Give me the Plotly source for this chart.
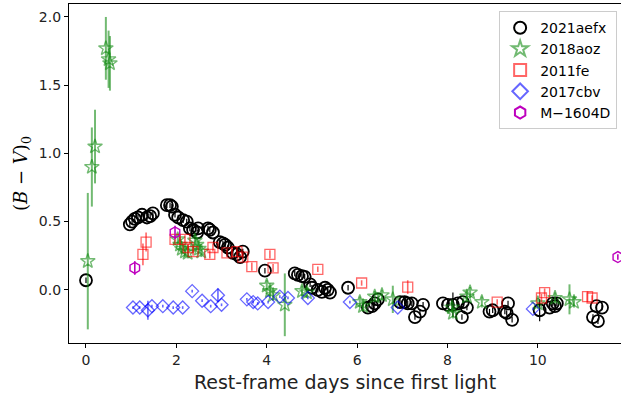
import plotly.graph_objects as go

# ---- SN 2021aefx ----
aefx_x = [0.00, 0.97, 1.02, 1.08, 1.15, 1.24, 1.35, 1.42, 1.48, 1.79, 1.86, 1.90,
          1.97, 2.04, 2.15, 2.23, 2.30, 2.37, 2.46, 2.48, 2.70, 2.74, 2.81,
          2.96, 3.03, 3.08, 3.14, 3.25, 3.34, 3.41, 3.47, 3.96,
          4.62, 4.69, 4.78, 4.84, 4.96, 5.00, 5.13, 5.22, 5.29, 5.35, 5.40, 5.80,
          6.24, 6.33, 6.39, 6.46, 6.95, 7.05, 7.12, 7.21, 7.28, 7.39, 7.46,
          7.90, 8.01, 8.12, 8.23, 8.32, 8.34, 8.43, 8.93, 9.00, 9.27, 9.34, 9.31, 9.43,
          10.04, 10.26, 10.33, 10.42, 10.38, 11.30, 11.42, 11.22, 11.33]
aefx_y = [0.07, 0.48, 0.50, 0.52, 0.53, 0.55, 0.53, 0.54, 0.56, 0.62, 0.62, 0.61,
          0.55, 0.53, 0.51, 0.50, 0.45, 0.44, 0.42, 0.45, 0.45, 0.44, 0.42,
          0.35, 0.34, 0.33, 0.31, 0.27, 0.26, 0.24, 0.28, 0.14,
          0.12, 0.11, 0.10, 0.095, 0.04, 0.015, 0.00, -0.015, 0.015, 0.00, -0.02, 0.015,
          -0.13, -0.12, -0.10, -0.07, -0.09, -0.09, -0.10, -0.10, -0.20, -0.16, -0.11,
          -0.10, -0.11, -0.11, -0.10, -0.20, -0.09, -0.13, -0.16, -0.15, -0.16, -0.10, -0.17, -0.22,
          -0.15, -0.13, -0.10, -0.10, -0.12, -0.12, -0.13, -0.20, -0.23]
aefx_err = [0.02] * len(aefx_x)
aefx_err[aefx_x.index(8.12)] = 0.09
aefx_err[aefx_x.index(10.04)] = 0.08

# ---- SN 2018aoz ----
aoz_x = [0.04, 0.13, 0.20, 0.44, 0.50, 0.53,
         2.03, 2.08, 2.12, 2.19, 2.25, 2.41, 2.45, 2.50, 2.55,
         4.00, 4.07, 4.14, 4.40, 4.78, 4.89,
         6.06, 6.13, 6.39, 6.55, 6.79,
         8.10, 8.12, 8.43, 8.50, 8.76,
         10.00, 10.38, 10.70, 10.80]
aoz_y = [0.21, 0.90, 1.05, 1.77, 1.69, 1.66,
         0.37, 0.33, 0.30, 0.28, 0.27, 0.36, 0.33, 0.30, 0.28,
         0.03, -0.01, -0.04, -0.11, -0.01, -0.02,
         -0.09, -0.12, -0.05, -0.04, -0.07,
         -0.13, -0.17, -0.05, -0.02, -0.09,
         -0.10, -0.06, -0.07, -0.09]
aoz_err = [0.50, 0.29, 0.27, 0.23, 0.21, 0.20,
           0.04, 0.04, 0.04, 0.04, 0.04, 0.04, 0.04, 0.04, 0.04,
           0.04, 0.04, 0.04, 0.23, 0.04, 0.04,
           0.04, 0.04, 0.04, 0.04, 0.10,
           0.04, 0.04, 0.04, 0.04, 0.04,
           0.04, 0.04, 0.11, 0.04]

# ---- SN 2011fe ----
fe_x = [1.26, 1.33, 1.97, 2.19, 2.26, 2.37, 2.74, 2.81, 3.12, 3.34, 3.47, 3.67,
        4.07, 4.14, 5.13, 6.10, 7.12, 9.10, 10.08, 10.15, 11.10, 11.20]
fe_y = [0.26, 0.35, 0.37, 0.37, 0.31, 0.28, 0.26, 0.31, 0.27, 0.28, 0.24, 0.17,
        0.26, 0.16, 0.15, 0.05, 0.02, -0.09, -0.06, -0.02, -0.05, -0.06]
fe_err = [0.08, 0.07, 0.03, 0.03, 0.03, 0.03, 0.03, 0.03, 0.03, 0.03, 0.03, 0.03,
          0.03, 0.03, 0.02, 0.02, 0.05, 0.02, 0.03, 0.03, 0.04, 0.02]

# ---- SN 2017cbv ----
cbv_x = [1.04, 1.19, 1.37, 1.46, 1.70, 1.93, 2.14, 2.35, 2.57, 2.76, 2.92, 3.00,
         3.56, 3.70, 3.80, 4.03, 4.29, 4.47, 4.91, 5.84, 6.90, 9.89]
cbv_y = [-0.13, -0.13, -0.15, -0.12, -0.12, -0.13, -0.13, -0.01, -0.08, -0.12, -0.04, -0.11,
         -0.07, -0.09, -0.10, -0.09, -0.05, -0.06, -0.06, -0.09, -0.13, -0.14]
cbv_err = [0.01, 0.01, 0.07, 0.01, 0.01, 0.01, 0.01, 0.01, 0.01, 0.01, 0.05, 0.01,
           0.01, 0.01, 0.01, 0.01, 0.01, 0.01, 0.01, 0.01, 0.01, 0.01]

# ---- MUSSES1604D ----
m_x = [1.08, 1.97, 11.77]
m_y = [0.16, 0.42, 0.24]
m_err = [0.05, 0.05, 0.02]

series = [
    ("2021aefx", aefx_x, aefx_y, aefx_err, "circle-open", 12, "rgba(0,0,0,1)", 1.2, 1.8),
    ("2018aoz", aoz_x, aoz_y, aoz_err, "star-open", 11, "rgba(20,140,20,0.6)", 2.0, 1.4),
    ("2011fe", fe_x, fe_y, fe_err, "square-open", 10, "rgba(255,0,0,0.6)", 1.6, 1.3),
    ("2017cbv", cbv_x, cbv_y, cbv_err, "diamond-open", 10, "rgba(0,0,255,0.6)", 1.6, 1.3),
    ("M\u22121604D", m_x, m_y, m_err, "hexagon-open", 11, "rgba(190,0,190,1)", 1.6, 1.4),
]

fig = go.Figure()
for name, xs, ys, es, sym, size, col, ew, lw in series:
    fig.add_trace(go.Scatter(
        x=xs, y=ys, mode="markers", name=name,
        marker=dict(symbol=sym, size=size, color=col, line=dict(color=col, width=lw)),
        error_y=dict(type="data", array=es, visible=True, color=col, thickness=ew, width=0),
    ))

axis_font = dict(family="DejaVu Sans", size=14, color="#222")
fig.update_layout(
    width=621, height=397,
    margin=dict(l=69, r=0, t=4, b=54),
    paper_bgcolor="white", plot_bgcolor="white",
    showlegend=True,
    legend=dict(x=0.993, y=0.979, xanchor="right", yanchor="top",
                bgcolor="rgba(255,255,255,0.8)", bordercolor="#cccccc", borderwidth=1,
                font=dict(family="DejaVu Sans", size=14, color="black"),
                itemsizing="constant", tracegroupgap=0),
    xaxis=dict(range=[-0.376, 11.84], tickvals=[0, 2, 4, 6, 8, 10],
               showgrid=False, zeroline=False, showline=True, linecolor="black", linewidth=1.2,
               mirror=True, ticks="outside", ticklen=4, tickcolor="black", tickfont=axis_font,
               title=dict(text="Rest-frame days since first light",
                          font=dict(family="DejaVu Sans", size=19, color="#222"), standoff=8)),
    yaxis=dict(range=[-0.39, 2.095], tickvals=[0.0, 0.5, 1.0, 1.5, 2.0], tickformat=".1f",
               showgrid=False, zeroline=False, showline=True, linecolor="black", linewidth=1.2,
               mirror=True, ticks="outside", ticklen=4, tickcolor="black", tickfont=axis_font,
               title=dict(text="(<i>B</i> \u2212 <i>V</i>)<sub>0</sub>",
                          font=dict(family="DejaVu Serif", size=18, color="black"), standoff=6)),
)

fig.write_html("out.html")
